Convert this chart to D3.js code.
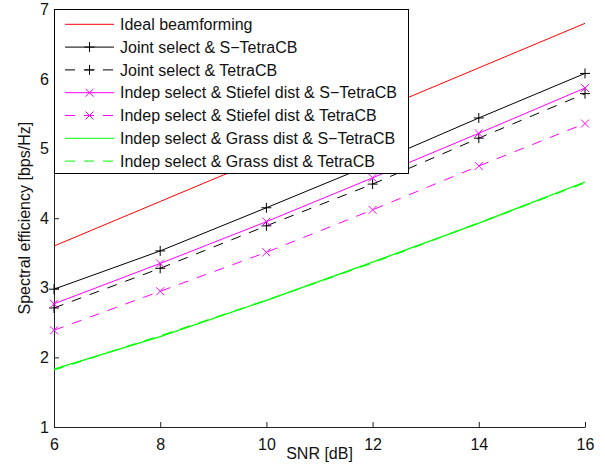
<!DOCTYPE html>
<html>
<head>
<meta charset="utf-8">
<script src="https://cdn.jsdelivr.net/npm/d3@7"></script>
<style>
  body { margin: 0; background: #fff; }
  text { font-family: "Liberation Sans", Arial, sans-serif; }
</style>
</head>
<body>
<div id="chart"></div>
<script>
const width = 605;
const height = 474;

// data
const snr = [6, 8, 10, 12, 14, 16];
const ideal = [3.60, 4.24, 4.88, 5.52, 6.16, 6.80];
const jointS = [2.98, 3.53, 4.15, 4.78, 5.44, 6.08];
const jointT = [2.71, 3.28, 3.89, 4.49, 5.15, 5.79];
const stiefelS = [2.77, 3.35, 3.95, 4.58, 5.22, 5.87];
const stiefelT = [2.39, 2.95, 3.51, 4.12, 4.75, 5.36];
const grassS = [1.83, 2.30, 2.82, 3.37, 3.93, 4.52];
const grassT = [1.82, 2.31, 2.82, 3.36, 3.93, 4.51];
const yTicks = [1, 2, 3, 4, 5, 6, 7];
const xTicks = [6, 8, 10, 12, 14, 16];

const series = [
    { name: "Ideal beamforming", values: ideal, color: "#ff0000", dash: null, marker: null },
    { name: "Joint select & S\u2212TetraCB", values: jointS, color: "#000000", dash: null, marker: "plus" },
    { name: "Joint select & TetraCB", values: jointT, color: "#000000", dash: "10,9", marker: "plus" },
    { name: "Indep select & Stiefel dist & S\u2212TetraCB", values: stiefelS, color: "#ff00ff", dash: null, marker: "cross" },
    { name: "Indep select & Stiefel dist & TetraCB", values: stiefelT, color: "#ff00ff", dash: "10,9", marker: "cross" },
    { name: "Indep select & Grass dist & S\u2212TetraCB", values: grassS, color: "#00ff00", dash: null, marker: null },
    { name: "Indep select & Grass dist & TetraCB", values: grassT, color: "#00ff00", dash: "10,9", marker: null }
];

const margin = { left: 54, right: 20, top: 9.4, bottom: 47 };
const fontSize = "16px";

const x = d3.scaleLinear().domain([6, 16]).range([margin.left, width - margin.right]);
const y = d3.scaleLinear().domain([1, 7]).range([height - margin.bottom, margin.top]);

const svg = d3.select("#chart").append("svg")
    .attr("width", width)
    .attr("height", height);

svg.append("rect")
    .attr("width", width)
    .attr("height", height)
    .style("fill", "#fff");

// axes, ticks pointing inwards like matlab
svg.append("g")
    .attr("transform", `translate(0,${y(1)})`)
    .call(d3.axisBottom(x).tickValues(xTicks).tickFormat(d3.format("d"))
        .tickSizeInner(-5).tickSizeOuter(0).tickPadding(12));

svg.append("g")
    .attr("transform", `translate(${x(6)},0)`)
    .call(d3.axisLeft(y).tickValues(yTicks).tickFormat(d3.format("d"))
        .tickSizeInner(-5).tickSizeOuter(0).tickPadding(5));

svg.selectAll(".domain, .tick line").style("stroke", "#222").style("stroke-width", 1);
svg.selectAll(".tick text")
    .style("font-size", fontSize)
    .style("font-family", "'Liberation Sans', Arial, sans-serif")
    .style("fill", "#111");

svg.append("text")
    .attr("x", (x(6) + x(16)) / 2)
    .attr("y", 459)
    .attr("text-anchor", "middle")
    .style("font-size", fontSize)
    .style("fill", "#111")
    .text("SNR [dB]");

svg.append("text")
    .attr("transform", `translate(30,${(y(1) + y(7)) / 2}) rotate(-90)`)
    .attr("text-anchor", "middle")
    .style("font-size", fontSize)
    .style("fill", "#111")
    .text("Spectral efficiency [bps/Hz]");

const line = d3.line()
    .x((d, i) => x(snr[i]))
    .y(d => y(d));

function drawMarker(g, type, cx, cy, color) {
    const s = 5;
    if (type === "plus") {
        g.append("path")
            .attr("d", `M${cx - s},${cy}H${cx + s}M${cx},${cy - s}V${cy + s}`)
            .style("stroke", color).style("stroke-width", 1).style("fill", "none");
    } else if (type === "cross") {
        const c = 4;
        g.append("path")
            .attr("d", `M${cx - c},${cy - c}L${cx + c},${cy + c}M${cx - c},${cy + c}L${cx + c},${cy - c}`)
            .style("stroke", color).style("stroke-width", 1).style("fill", "none");
    }
}

const plot = svg.append("g");

series.forEach(s => {
    plot.append("path")
        .datum(s.values)
        .attr("d", line)
        .style("fill", "none")
        .style("stroke", s.color)
        .style("stroke-width", s.color === "#00ff00" ? 1.3 : 1)
        .style("stroke-dasharray", s.dash);
    if (s.marker) {
        s.values.forEach((v, i) => drawMarker(plot, s.marker, x(snr[i]), y(v), s.color));
    }
});

// legend
const legend = svg.append("g");
legend.append("rect")
    .attr("x", 54.5)
    .attr("y", 9.5)
    .attr("width", 354)
    .attr("height", 164)
    .style("fill", "#fff")
    .style("stroke", "#000")
    .style("stroke-width", 1);

series.forEach((s, i) => {
    const ly = 24.3 + i * 22.8;
    legend.append("line")
        .attr("x1", 65).attr("x2", 114)
        .attr("y1", ly).attr("y2", ly)
        .style("stroke", s.color)
        .style("stroke-width", 1)
        .style("stroke-dasharray", s.dash);
    if (s.marker) drawMarker(legend, s.marker, 89.5, ly, s.color);
    legend.append("text")
        .attr("x", 120)
        .attr("y", ly)
        .attr("dy", "0.35em")
        .style("font-size", fontSize)
        .style("fill", "#111")
        .text(s.name);
});
</script>
</body>
</html>
